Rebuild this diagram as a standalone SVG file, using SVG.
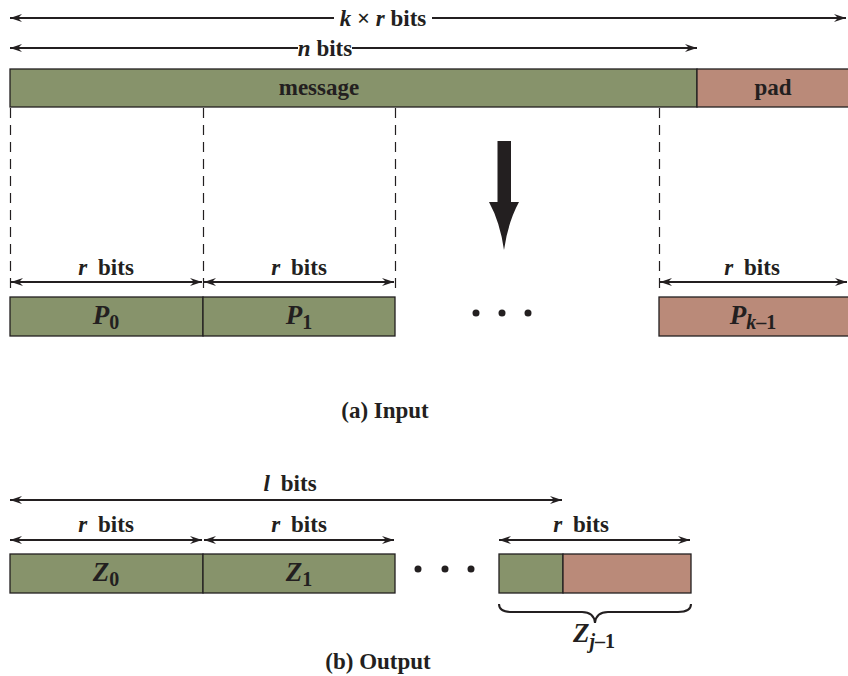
<svg xmlns="http://www.w3.org/2000/svg" width="848" height="676" viewBox="0 0 848 676">
<defs>
<marker id="ah" viewBox="0 0 12 8" refX="12" refY="4" markerWidth="12" markerHeight="8" markerUnits="userSpaceOnUse" orient="auto-start-reverse">
<path d="M0,0 L12,4 L0,8 L4,4 z" fill="#231f20"/>
</marker>
</defs>
<style>
.t{font-family:"Liberation Serif","Times New Roman",serif;font-weight:bold;fill:#231f20;font-size:23px}
.b{font-size:27px}
.s{font-size:20px}
.i{font-style:italic}
.g{fill:#87936b;stroke:#231f20;stroke-width:1.3}
.p{fill:#ba8a79;stroke:#231f20;stroke-width:1.3}
.dim{stroke:#231f20;stroke-width:2;fill:none}
.dash{stroke:#231f20;stroke-width:1.2;stroke-dasharray:10,7;fill:none}
</style>
<rect width="848" height="676" fill="#fff"/>
<g id="connectors">
<line class="dim" x1="10" y1="18" x2="334" y2="18" marker-start="url(#ah)"/>
<line class="dim" x1="432" y1="18" x2="846" y2="18" marker-end="url(#ah)"/>
<line class="dim" x1="10" y1="48" x2="298" y2="48" marker-start="url(#ah)"/>
<line class="dim" x1="352" y1="48" x2="697" y2="48" marker-end="url(#ah)"/>
<line class="dash" x1="10.5" y1="108" x2="10.5" y2="290"/>
<line class="dash" x1="203.5" y1="108" x2="203.5" y2="290"/>
<line class="dash" x1="395.5" y1="108" x2="395.5" y2="290"/>
<line class="dash" x1="659.5" y1="108" x2="659.5" y2="290"/>
<line class="dim" x1="11" y1="282" x2="202" y2="282" marker-start="url(#ah)" marker-end="url(#ah)"/>
<line class="dim" x1="204" y1="282" x2="394" y2="282" marker-start="url(#ah)" marker-end="url(#ah)"/>
<line class="dim" x1="660" y1="282" x2="847" y2="282" marker-start="url(#ah)" marker-end="url(#ah)"/>
<path d="M497.5,141 H511 V202 L519,202 Q508,222 504,250 Q500,222 489,202 L497.5,202 Z" fill="#231f20"/>
<line class="dim" x1="10" y1="500" x2="562" y2="500" marker-start="url(#ah)" marker-end="url(#ah)"/>
<line class="dim" x1="10" y1="540" x2="202" y2="540" marker-start="url(#ah)" marker-end="url(#ah)"/>
<line class="dim" x1="204" y1="540" x2="394" y2="540" marker-start="url(#ah)" marker-end="url(#ah)"/>
<line class="dim" x1="499" y1="540" x2="690" y2="540" marker-start="url(#ah)" marker-end="url(#ah)"/>
<path d="M499,604 Q499,612 512,612 L582,612 Q594,612 595,623 Q596,612 608,612 L678,612 Q691,612 691,604" fill="none" stroke="#231f20" stroke-width="2"/>
</g>
<text class="t" x="383" y="26" text-anchor="middle"><tspan class="i">k</tspan> × <tspan class="i">r</tspan> bits</text>
<text class="t" x="325" y="56" text-anchor="middle"><tspan class="i">n</tspan> bits</text>
<g id="message"><rect class="g" x="10" y="69" width="687" height="38"/><text class="t" x="319" y="95" text-anchor="middle">message</text></g>
<g id="pad"><rect class="p" x="697" y="69" width="152" height="38"/><text class="t" x="773" y="95" text-anchor="middle">pad</text></g>
<text class="t" x="106" y="275" text-anchor="middle"><tspan class="i">r</tspan><tspan dx="11">bits</tspan></text>
<text class="t" x="299" y="275" text-anchor="middle"><tspan class="i">r</tspan><tspan dx="11">bits</tspan></text>
<text class="t" x="752" y="275" text-anchor="middle"><tspan class="i">r</tspan><tspan dx="11">bits</tspan></text>
<g id="P0"><rect class="g" x="10" y="297" width="193" height="39"/><text class="t b" x="106" y="324" text-anchor="middle"><tspan class="i">P</tspan><tspan class="s" dy="5">0</tspan></text></g>
<g id="P1"><rect class="g" x="203" y="297" width="192" height="39"/><text class="t b" x="299" y="324" text-anchor="middle"><tspan class="i">P</tspan><tspan class="s" dy="5">1</tspan></text></g>
<g id="dots1"><circle cx="476" cy="313" r="3.5" fill="#231f20"/><circle cx="502" cy="313" r="3.5" fill="#231f20"/><circle cx="528" cy="313" r="3.5" fill="#231f20"/></g>
<g id="Pk1"><rect class="p" x="659" y="297" width="190" height="39"/><text class="t b" x="753" y="324" text-anchor="middle"><tspan class="i">P</tspan><tspan class="s" dy="5"><tspan class="i">k</tspan>–1</tspan></text></g>
<text class="t" x="385" y="418" text-anchor="middle">(a) Input</text>
<text class="t" x="290" y="491" text-anchor="middle"><tspan class="i">l</tspan><tspan dx="11">bits</tspan></text>
<text class="t" x="106" y="532" text-anchor="middle"><tspan class="i">r</tspan><tspan dx="11">bits</tspan></text>
<text class="t" x="299" y="532" text-anchor="middle"><tspan class="i">r</tspan><tspan dx="11">bits</tspan></text>
<text class="t" x="581" y="532" text-anchor="middle"><tspan class="i">r</tspan><tspan dx="11">bits</tspan></text>
<g id="Z0"><rect class="g" x="10" y="554" width="193" height="39"/><text class="t b" x="106" y="581" text-anchor="middle"><tspan class="i">Z</tspan><tspan class="s" dy="5">0</tspan></text></g>
<g id="Z1"><rect class="g" x="203" y="554" width="192" height="39"/><text class="t b" x="299" y="581" text-anchor="middle"><tspan class="i">Z</tspan><tspan class="s" dy="5">1</tspan></text></g>
<g id="dots2"><circle cx="418" cy="569" r="3.5" fill="#231f20"/><circle cx="445" cy="569" r="3.5" fill="#231f20"/><circle cx="471" cy="569" r="3.5" fill="#231f20"/></g>
<g id="Zj1"><rect class="g" x="499" y="554" width="64" height="39"/><rect class="p" x="563" y="554" width="128" height="39"/></g>
<text class="t b" x="594" y="642" text-anchor="middle"><tspan class="i">Z</tspan><tspan class="s" dy="6"><tspan class="i">j</tspan>–1</tspan></text>
<text class="t" x="378" y="669" text-anchor="middle">(b) Output</text>
</svg>
